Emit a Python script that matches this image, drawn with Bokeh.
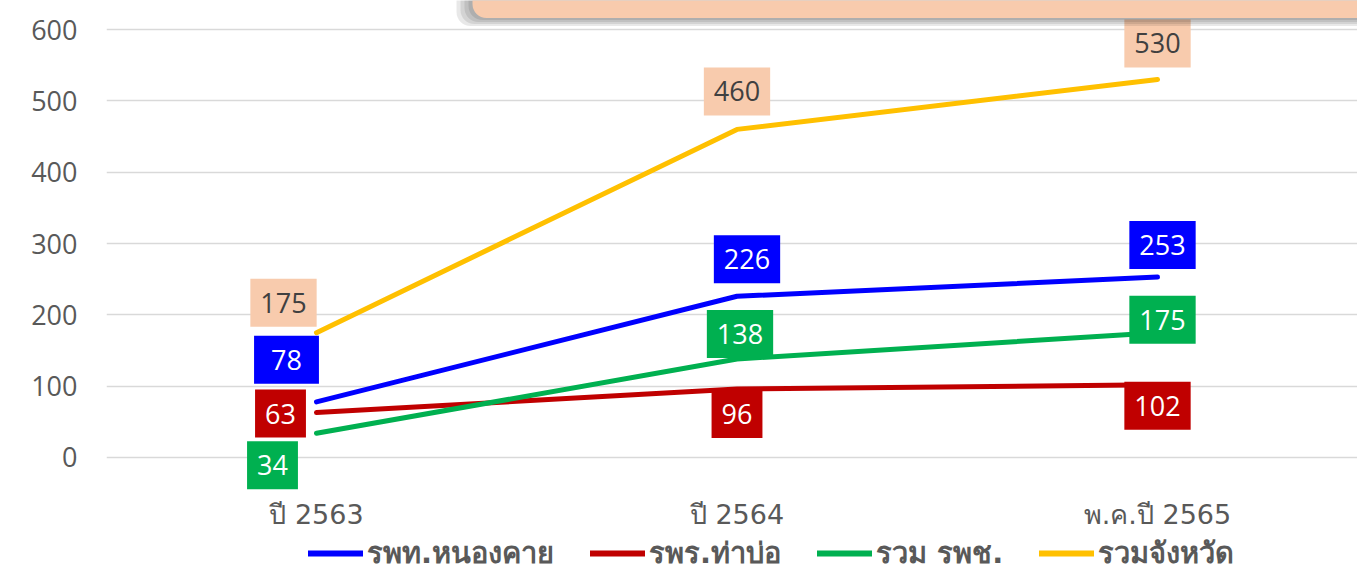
from bokeh.plotting import figure
from bokeh.layouts import column
from bokeh.models import (Range1d, FixedTicker, ColumnDataSource, Legend,
                          LegendItem, BoxAnnotation)
from bokeh.core.properties import value
from bokeh.embed import file_html
from bokeh.resources import INLINE

# ---- data ----
categories = ["ปี 2563", "ปี 2564", "พ.ค.ปี 2565"]
series_names = ["รพท.หนองคาย", "รพร.ท่าบ่อ", "รวม รพช.", "รวมจังหวัด"]
nongkhai = [78, 226, 253]
thabo = [63, 96, 102]
community = [34, 138, 175]
province = [175, 460, 530]
y_ticks = [0, 100, 200, 300, 400, 500, 600]

# ---- styles ----
line_colors = ["#0000FF", "#C00000", "#00B050", "#FFC000"]
label_bg = ["#0000FF", "#C00000", "#00B050", "#F8CBAD"]
label_fg = ["#FFFFFF", "#FFFFFF", "#FFFFFF", "#404040"]
label_dx = [[-30, 10, 5], [-36, 0, 0], [-44, 3, 5], [-33, 0, 0]]
label_dy = [[-42, -37, -32], [1, 25, 21], [32, -25, -13], [-30, -38, -36]]
label_padx = [[17, 10, 10], [10, 10, 10], [10, 10, 10], [10, 10, 10]]
GRAY = "#595959"
PEACH = "#F8CBAD"
W = 1357

p = figure(width=W, height=534, output_backend="svg", toolbar_location=None,
           x_range=Range1d(-0.4994, 2.4756), y_range=Range1d(-49.1, 640.7),
           min_border_left=106, min_border_right=0, min_border_top=0,
           min_border_bottom=42)
p.outline_line_color = None
p.background_fill_color = "white"
p.border_fill_color = "white"

# title box decoration (mostly outside the view), with a soft shadow
for k in [4, 3, 2, 1]:
    p.add_layout(BoxAnnotation(left=0.371 - k * 4 / 420.5, right=3.0,
                               bottom=616.1 - k * 2 / 0.7133, top=700,
                               fill_color="#000000", fill_alpha=0.09,
                               line_color=None, border_radius=14))
p.add_layout(BoxAnnotation(left=0.371, right=3.0, bottom=616.1, top=700,
                           fill_color=PEACH, fill_alpha=1.0, line_color=None,
                           border_radius=14))

xs = list(range(len(categories)))
all_series = [nongkhai, thabo, community, province]
for vals, col in zip(all_series, line_colors):
    p.line(xs, vals, line_color=col, line_width=5, line_join="round",
           line_cap="round")

for i, vals in enumerate(all_series):
    for j, v in enumerate(vals):
        src = ColumnDataSource(dict(x=[xs[j]], y=[v], t=[str(v)]))
        px = label_padx[i][j]
        p.text(x="x", y="y", text="t", source=src,
               x_offset=label_dx[i][j], y_offset=label_dy[i][j],
               text_align="center", text_baseline="middle",
               text_font=value("Open Sans"), text_font_size="27px",
               text_color=label_fg[i], background_fill_color=label_bg[i],
               padding=dict(left=px, right=px, top=14, bottom=14))

# axes
p.yaxis.ticker = FixedTicker(ticks=y_ticks)
p.yaxis.axis_line_color = None
p.yaxis.major_tick_line_color = None
p.yaxis.minor_tick_line_color = None
p.yaxis.major_label_text_font = "Open Sans"
p.yaxis.major_label_text_font_size = "27px"
p.yaxis.major_label_text_color = GRAY
p.yaxis.major_label_standoff = 23

p.xaxis.ticker = FixedTicker(ticks=xs)
p.xaxis.major_label_overrides = {i: c for i, c in enumerate(categories)}
p.xaxis.axis_line_color = None
p.xaxis.major_tick_line_color = None
p.xaxis.minor_tick_line_color = None
p.xaxis.major_label_text_font = "DejaVu Sans"
p.xaxis.major_label_text_font_size = "27px"
p.xaxis.major_label_text_color = GRAY
p.xaxis.major_label_standoff = 0

p.xgrid.grid_line_color = None
p.ygrid.ticker = FixedTicker(ticks=y_ticks)
p.ygrid.grid_line_color = "#D9D9D9"
p.ygrid.grid_line_width = 1.5

# legend strip (proxy lines sit outside the strip's visible range)
lg = figure(width=W, height=32, output_backend="svg", toolbar_location=None,
            x_range=Range1d(0, 1), y_range=Range1d(0, 1),
            x_axis_location=None, y_axis_location=None,
            min_border_left=0, min_border_right=0, min_border_top=0,
            min_border_bottom=0)
lg.outline_line_color = None
lg.xgrid.grid_line_color = None
lg.ygrid.grid_line_color = None
proxies = [lg.line([5, 6], [5, 6], line_color=c, line_width=6, line_cap="round")
           for c in line_colors]
legend = Legend(items=[LegendItem(label=n, renderers=[r])
                       for n, r in zip(series_names, proxies)],
                orientation="horizontal", location=(202, -10),
                glyph_width=55, glyph_height=20, label_standoff=4, spacing=36,
                label_text_font="DejaVu Sans", label_text_font_size="29px",
                label_text_font_style="bold", label_text_color=GRAY,
                border_line_color=None, background_fill_alpha=0,
                padding=0, margin=0)
lg.add_layout(legend)

open("out.html", "w").write(file_html(column(p, lg, spacing=0), INLINE))
